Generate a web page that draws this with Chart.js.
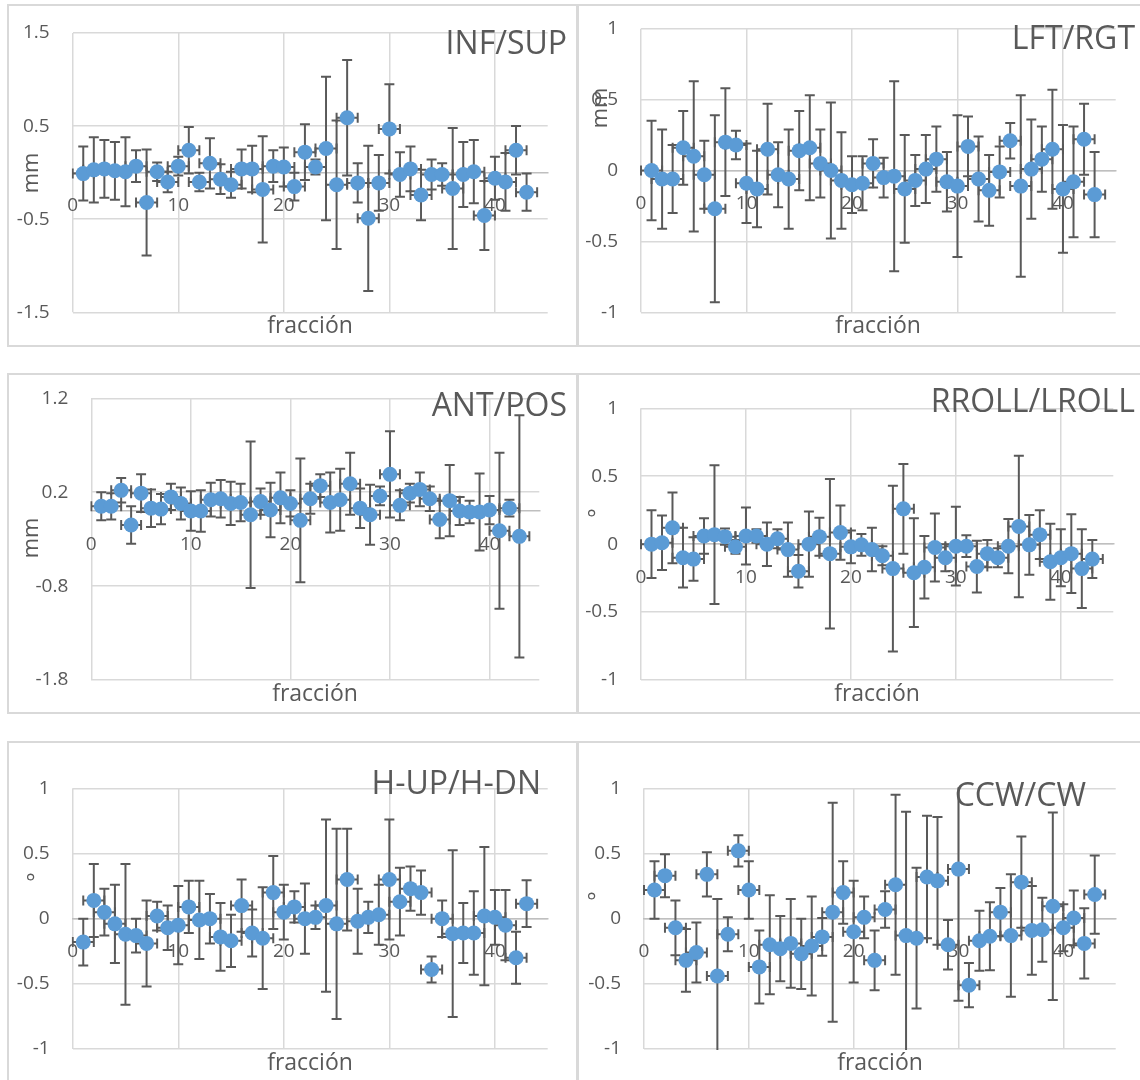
<!DOCTYPE html>
<html>
<head>
<meta charset="utf-8">
<script src="https://cdn.jsdelivr.net/npm/chart.js@4.4.1/dist/chart.umd.min.js"></script>
<style>
  html, body { margin: 0; padding: 0; background: #fff; }
  body { position: relative; width: 1140px; height: 1080px; overflow: hidden; font-family: "Open Sans", sans-serif; }
  canvas { position: absolute; }
  .box { position: absolute; box-sizing: border-box; border: 2px solid #d9d9d9; pointer-events: none; }
  .ttl { position: absolute; color: #595959; font-size: 32px; line-height: 1; white-space: nowrap; }
  .xt { position: absolute; color: #595959; font-size: 23px; line-height: 1; white-space: nowrap; transform: translateX(-50%); }
  .yt { position: absolute; color: #595959; font-size: 22px; line-height: 1; white-space: nowrap; transform: translate(-50%, -50%) rotate(-90deg); }
</style>
</head>
<body>
<script>
// Fraction number (x) shared by all six panels
const fraccion = [1, 2, 3, 4, 5, 6, 7, 8, 9, 10, 11, 12, 13, 14, 15, 16, 17, 18, 19, 20,
  21, 22, 23, 24, 25, 26, 27, 28, 29, 30, 31, 32, 33, 34, 35, 36, 37, 38, 39, 40, 41, 42, 43];
const xTickValues = [0, 10, 20, 30, 40];
const xErrorFixed = 1;

// Mean shift per fraction and its standard deviation
const infSup = [-0.01, 0.03, 0.04, 0.02, 0.01, 0.07, -0.32, 0.01, -0.10, 0.07, 0.24, -0.10, 0.10, -0.07, -0.13,
  0.04, 0.04, -0.18, 0.07, 0.06, -0.15, 0.22, 0.06, 0.26, -0.13, 0.59, -0.11, -0.49, -0.11, 0.47,
  -0.02, 0.04, -0.24, -0.02, -0.02, -0.17, -0.02, 0.01, -0.46, -0.06, -0.10, 0.24, -0.21];
const infSupSd = [0.29, 0.35, 0.31, 0.31, 0.37, 0.17, 0.57, 0.10, 0.11, 0.10, 0.25, 0.10, 0.27, 0.16, 0.14,
  0.21, 0.25, 0.57, 0.17, 0.21, 0.15, 0.30, 0.08, 0.77, 0.69, 0.62, 0.21, 0.78, 0.30, 0.48,
  0.24, 0.24, 0.27, 0.16, 0.12, 0.65, 0.35, 0.34, 0.37, 0.23, 0.31, 0.26, 0.20];

const lftRgt = [0.00, -0.06, -0.06, 0.16, 0.10, -0.03, -0.27, 0.20, 0.18, -0.09, -0.13, 0.15, -0.03, -0.06, 0.14,
  0.16, 0.05, 0.00, -0.07, -0.10, -0.09, 0.05, -0.05, -0.04, -0.13, -0.07, 0.01, 0.08, -0.08, -0.11,
  0.17, -0.06, -0.14, -0.01, 0.21, -0.11, 0.01, 0.08, 0.15, -0.13, -0.08, 0.22, -0.17];
const lftRgtSd = [0.35, 0.35, 0.24, 0.26, 0.53, 0.24, 0.66, 0.38, 0.10, 0.28, 0.27, 0.32, 0.23, 0.35, 0.28,
  0.37, 0.24, 0.48, 0.34, 0.20, 0.19, 0.17, 0.14, 0.67, 0.38, 0.18, 0.24, 0.23, 0.21, 0.50,
  0.21, 0.30, 0.25, 0.18, 0.125, 0.64, 0.35, 0.23, 0.42, 0.45, 0.39, 0.25, 0.30];

const antPos = [0.05, 0.05, 0.22, -0.15, 0.19, 0.03, 0.02, 0.15, 0.08, 0.00, 0.00, 0.12, 0.13, 0.08, 0.09,
  -0.04, 0.10, 0.01, 0.14, 0.08, -0.10, 0.13, 0.27, 0.09, 0.12, 0.29, 0.03, -0.04, 0.16, 0.39,
  0.06, 0.19, 0.23, 0.13, -0.09, 0.11, 0.00, -0.01, -0.01, 0.01, -0.21, 0.03, -0.27];
const antPosSd = [0.15, 0.14, 0.13, 0.20, 0.20, 0.20, 0.16, 0.14, 0.17, 0.21, 0.22, 0.18, 0.20, 0.23, 0.20,
  0.78, 0.14, 0.29, 0.27, 0.14, 0.66, 0.16, 0.12, 0.32, 0.33, 0.33, 0.21, 0.32, 0.10, 0.46,
  0.16, 0.10, 0.18, 0.13, 0.20, 0.38, 0.15, 0.12, 0.41, 0.15, 0.83, 0.09, 1.29];

const rollLR = [0.00, 0.01, 0.12, -0.10, -0.11, 0.06, 0.07, 0.055, -0.02, 0.06, 0.06, 0.00, 0.04, -0.04, -0.20,
  0.00, 0.055, -0.07, 0.085, -0.02, -0.005, -0.04, -0.085, -0.18, 0.26, -0.21, -0.17, -0.025, -0.10, -0.015,
  -0.015, -0.165, -0.07, -0.10, -0.015, 0.13, -0.005, 0.07, -0.13, -0.10, -0.07, -0.18, -0.11];
const rollLRSd = [0.25, 0.20, 0.26, 0.22, 0.16, 0.13, 0.51, 0.06, 0.05, 0.21, 0.05, 0.16, 0.07, 0.20, 0.12,
  0.24, 0.14, 0.55, 0.20, 0.12, 0.08, 0.16, 0.07, 0.61, 0.33, 0.40, 0.23, 0.25, 0.10, 0.29,
  0.08, 0.19, 0.10, 0.07, 0.20, 0.52, 0.22, 0.18, 0.28, 0.21, 0.29, 0.29, 0.14];

const hUpDn = [-0.18, 0.14, 0.05, -0.04, -0.12, -0.13, -0.19, 0.02, -0.07, -0.05, 0.09, -0.01, 0.00, -0.14, -0.17,
  0.10, -0.11, -0.15, 0.20, 0.05, 0.09, 0.00, 0.01, 0.10, -0.04, 0.30, -0.02, 0.01, 0.03, 0.30,
  0.13, 0.23, 0.20, -0.39, 0.00, -0.115, -0.11, -0.11, 0.02, 0.01, -0.05, -0.30, 0.115];
const hUpDnSd = [0.18, 0.28, 0.18, 0.30, 0.54, 0.13, 0.33, 0.11, 0.17, 0.30, 0.20, 0.30, 0.19, 0.26, 0.20,
  0.20, 0.18, 0.39, 0.28, 0.21, 0.12, 0.27, 0.09, 0.66, 0.73, 0.39, 0.25, 0.12, 0.23, 0.46,
  0.26, 0.17, 0.17, 0.10, 0.14, 0.64, 0.23, 0.32, 0.53, 0.21, 0.27, 0.20, 0.18];

const ccwCw = [0.22, 0.33, -0.07, -0.32, -0.26, 0.34, -0.44, -0.12, 0.52, 0.22, -0.37, -0.20, -0.23, -0.19, -0.27,
  -0.21, -0.14, 0.05, 0.20, -0.10, 0.01, -0.32, 0.07, 0.26, -0.13, -0.15, 0.32, 0.29, -0.20, 0.38,
  -0.51, -0.17, -0.135, 0.05, -0.13, 0.28, -0.09, -0.085, 0.095, -0.07, 0.005, -0.19, 0.185];
const ccwCwSd = [0.22, 0.165, 0.21, 0.24, 0.23, 0.17, 0.59, 0.13, 0.12, 0.22, 0.28, 0.38, 0.25, 0.34, 0.27,
  0.38, 0.145, 0.84, 0.24, 0.39, 0.16, 0.23, 0.14, 0.69, 0.95, 0.54, 0.47, 0.49, 0.19, 1.01,
  0.17, 0.23, 0.26, 0.185, 0.47, 0.35, 0.34, 0.245, 0.72, 0.18, 0.21, 0.27, 0.30];

// Axis ticks and texts
const yTicksInfSup = [-1.5, -0.5, 0.5, 1.5];
const yTicksAntPos = [-1.8, -0.8, 0.2, 1.2];
const yTicksDeg = [-1, -0.5, 0, 0.5, 1];
const panelTitles = ['INF/SUP', 'LFT/RGT', 'ANT/POS', 'RROLL/LROLL', 'H-UP/H-DN', 'CCW/CW'];
const yUnits = ['mm', 'mm', 'mm', '°', '°', '°'];
const xAxisTitle = 'fracción';

const GRID = '#d9d9d9';
const AXIS = '#bfbfbf';
const TEXT = '#595959';
const MARK = '#5b9bd5';
const BAR = '#595959';
const EXT = 40; // transparent canvas margin above and below each frame

Chart.defaults.font.family = '"Open Sans", sans-serif';

// Error bars (x and y) drawn beneath the markers
const errorBars = {
  id: 'errorBars',
  beforeDatasetsDraw(chart) {
    const { ctx, chartArea: a, scales: { x, y } } = chart;
    const cap = 5;
    ctx.save();
    ctx.beginPath();
    ctx.rect(a.left - 1, a.top - 1, a.right - a.left + 2, a.bottom - a.top + 2);
    ctx.clip();
    ctx.strokeStyle = BAR;
    ctx.lineWidth = 2;
    chart.data.datasets[0].data.forEach(p => {
      const px = x.getPixelForValue(p.x);
      const py = y.getPixelForValue(p.y);
      const yt = y.getPixelForValue(p.y + p.sd);
      const yb = y.getPixelForValue(p.y - p.sd);
      const xl = x.getPixelForValue(p.x - p.xe);
      const xr = x.getPixelForValue(p.x + p.xe);
      ctx.beginPath();
      ctx.moveTo(px, yt); ctx.lineTo(px, yb);
      ctx.moveTo(px - cap, yt); ctx.lineTo(px + cap, yt);
      ctx.moveTo(px - cap, yb); ctx.lineTo(px + cap, yb);
      ctx.moveTo(xl, py); ctx.lineTo(xr, py);
      ctx.moveTo(xl, py - cap); ctx.lineTo(xl, py + cap);
      ctx.moveTo(xr, py - cap); ctx.lineTo(xr, py + cap);
      ctx.stroke();
    });
    ctx.restore();
  }
};

// Panel frames: outer box [left, top, width, height], plot area [left, top, right, bottom]
const panels = [
  { values: infSup, sd: infSupSd, yTicks: yTicksInfSup, box: [7, 4, 571, 343], plot: [72.7, 33, 547.7, 312.3],
    titleRight: 567, titleCapTop: 31.5, unitAt: [29, 173], xtAt: [310, 313] },
  { values: lftRgt, sd: lftRgtSd, yTicks: yTicksDeg, box: [577, 4, 567, 343], plot: [641, 28.7, 1115.7, 312.3],
    titleRight: 1135, titleCapTop: 26.5, unitAt: [597.5, 108], xtAt: [878, 313] },
  { values: antPos, sd: antPosSd, yTicks: yTicksAntPos, box: [7, 373, 571, 341], plot: [91.3, 398.3, 539.3, 680],
    titleRight: 567, titleCapTop: 394, unitAt: [29, 538], xtAt: [315, 681] },
  { values: rollLR, sd: rollLRSd, yTicks: yTicksDeg, box: [577, 373, 567, 341], plot: [641, 408.3, 1113.3, 680],
    titleRight: 1135, titleCapTop: 389.5, unitAt: [595, 513], xtAt: [877, 681] },
  { values: hUpDn, sd: hUpDnSd, yTicks: yTicksDeg, box: [7, 741, 571, 345], plot: [72.7, 788.3, 547.7, 1049],
    titleRight: 541, titleCapTop: 771.5, unitAt: [33.5, 877], xtAt: [310, 1050] },
  { values: ccwCw, sd: ccwCwSd, yTicks: yTicksDeg, box: [577, 741, 567, 345], plot: [644, 788.3, 1115.7, 1049],
    titleRight: 1086, titleCapTop: 783.5, unitAt: [595, 895.5], xtAt: [880, 1050] }
];

function addText(cls, text, css) {
  const d = document.createElement('div');
  d.className = cls;
  d.textContent = text;
  Object.assign(d.style, css);
  document.body.appendChild(d);
}

panels.forEach((cfg, i) => {
  const [bx, by, bw, bh] = cfg.box;
  const [L, T, R, B] = cfg.plot;
  const cTop = by - EXT;
  const cH = bh + 2 * EXT;

  const cv = document.createElement('canvas');
  cv.width = bw; cv.height = cH;
  cv.style.left = bx + 'px'; cv.style.top = cTop + 'px';
  cv.style.width = bw + 'px'; cv.style.height = cH + 'px';
  document.body.appendChild(cv);

  const box = document.createElement('div');
  box.className = 'box';
  Object.assign(box.style, { left: bx + 'px', top: by + 'px', width: bw + 'px', height: bh + 'px' });
  document.body.appendChild(box);

  const yMin = cfg.yTicks[0];
  const yMax = cfg.yTicks[cfg.yTicks.length - 1];

  new Chart(cv, {
    type: 'scatter',
    data: {
      datasets: [{
        data: fraccion.map((f, k) => ({ x: f, y: cfg.values[k], sd: cfg.sd[k], xe: xErrorFixed })),
        backgroundColor: MARK,
        borderWidth: 0,
        pointRadius: 7.5,
        pointHoverRadius: 7.5
      }]
    },
    options: {
      responsive: false,
      animation: false,
      events: [],
      layout: { padding: { left: 0, top: T - cTop, right: bx + bw - R, bottom: cTop + cH - B } },
      plugins: { legend: { display: false }, tooltip: { enabled: false } },
      scales: {
        x: {
          type: 'linear', min: 0, max: 45,
          position: { y: 0 },
          afterBuildTicks: s => { s.ticks = xTickValues.map(v => ({ value: v })); },
          grid: { color: GRID, lineWidth: 1.5, drawTicks: false },
          border: { color: AXIS, width: 1.5 },
          ticks: { color: TEXT, font: { size: 19 }, padding: 22, maxRotation: 0, autoSkip: false,
            callback: v => String(v) }
        },
        y: {
          type: 'linear', min: yMin, max: yMax,
          position: 'left',
          afterBuildTicks: s => { s.ticks = cfg.yTicks.map(v => ({ value: v })); },
          afterFit: s => { s.width = L - bx; },
          grid: { color: GRID, lineWidth: 1.5, drawTicks: false },
          border: { display: false },
          ticks: { color: TEXT, font: { size: 19 }, padding: 23, autoSkip: false,
            callback: v => String(v) }
        }
      }
    },
    plugins: [errorBars]
  });

  addText('ttl', panelTitles[i], { right: (1140 - cfg.titleRight) + 'px', top: (cfg.titleCapTop - 5.6) + 'px' });
  addText('yt', yUnits[i], { left: cfg.unitAt[0] + 'px', top: cfg.unitAt[1] + 'px' });
  addText('xt', xAxisTitle, { left: cfg.xtAt[0] + 'px', top: cfg.xtAt[1] + 'px' });
});
</script>
</body>
</html>
